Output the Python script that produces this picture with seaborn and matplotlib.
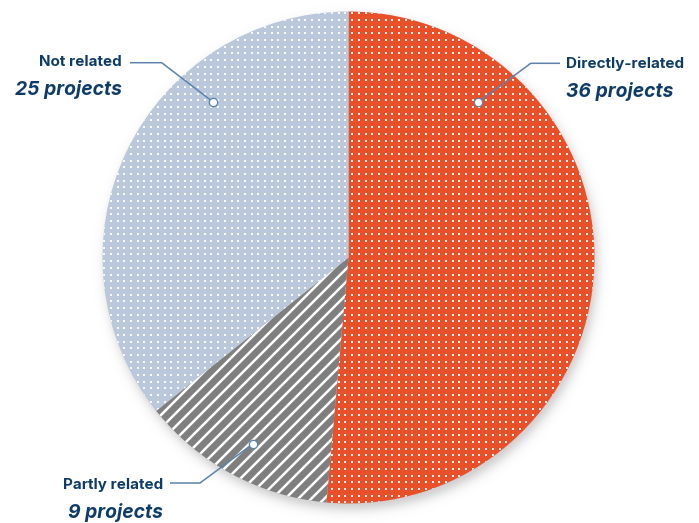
import numpy as np
import matplotlib
matplotlib.use("Agg")
import matplotlib.pyplot as plt
from matplotlib.collections import LineCollection
import seaborn as sns

# ---- data ----
categories = ["Directly-related", "Partly related", "Not related"]
counts = [36, 9, 25]
count_labels = ["36 projects", "9 projects", "25 projects"]

# ---- style ----
sns.set_theme(style="white")
plt.rcParams["font.family"] = ["Inter", "DejaVu Sans"]

W, H = 699, 523
ORANGE = "#E8502A"
BLUEGREY = "#BBC7DB"
GREY = "#7F7F7F"
NAVY = "#0E3C69"
LEADER = "#5E82AB"

fig = plt.figure(figsize=(W / 100, H / 100), dpi=100)
ax = fig.add_axes([0, 0, 1, 1])
ax.set_xlim(0, W)
ax.set_ylim(0, H)
ax.set_aspect("equal")
ax.axis("off")

cx, cy, R = 348.5, H - 257.5, 246.0

# soft drop shadow under the disc
yy, xx = np.mgrid[0:H, 0:W]
d = np.hypot(xx + 0.5 - (cx + 3), (H - yy - 0.5) - (cy - 6))
alpha = 0.32 / (1 + np.exp((d - R) / 3.2))
shadow = np.zeros((H, W, 4))
shadow[..., :3] = 0.35
shadow[..., 3] = alpha
ax.imshow(shadow, extent=(0, W, 0, H), origin="upper", zorder=0, interpolation="bilinear")

wedges, _ = ax.pie(
    counts,
    colors=[ORANGE, GREY, BLUEGREY],
    startangle=90,
    counterclock=False,
    center=(cx, cy),
    radius=R,
    frame=True,
    wedgeprops=dict(linewidth=0, zorder=1),
)
ax.set_xlim(0, W)
ax.set_ylim(0, H)
ax.axis("off")

# dotted texture on the orange and blue-grey slices
step = 6.7
gx, gy = np.meshgrid(np.arange(cx - R - step, cx + R + step, step) + 1.7,
                     np.arange(cy - R - step, cy + R + step, step) + 1.2)
for w in (wedges[0], wedges[2]):
    sc = ax.scatter(gx.ravel(), gy.ravel(), s=3.4, marker="s", c="white",
                    alpha=0.9, linewidths=0, zorder=2)
    sc.set_clip_path(w)

# diagonal stripes on the grey slice
sp = 13.0
segs = [[(x0, cy - R - 20), (x0 + 2 * R + 40, cy + R + 20)]
        for x0 in np.arange(cx - 3 * R, cx + 2 * R, sp)]
lc = LineCollection(segs, colors="white", linewidths=1.8, zorder=2)
ax.add_collection(lc)
lc.set_clip_path(wedges[1])

# callouts: (leader polyline in pixel coords, text anchor, alignment)
callouts = {
    "Directly-related": ([(560, 63.3), (530.7, 63.3), (478.3, 102.3)], (566, 68.3), (566, 96.7), "left"),
    "Partly related": ([(170, 483), (200, 483), (252.7, 444)], (163, 489), (163, 518), "right"),
    "Not related": ([(130, 62.7), (161.7, 62.7), (212.7, 101.7)], (122, 66), (122, 95), "right"),
}
for name, lab in zip(categories, count_labels):
    pts, t1, t2, ha = callouts[name]
    xs = [p[0] for p in pts]
    ys = [H - p[1] for p in pts]
    ax.plot(xs, ys, color=LEADER, lw=1.1, zorder=3, solid_capstyle="butt")
    ax.plot(xs[-1], ys[-1], "o", ms=6, mfc="white", mec=LEADER, mew=0.9, zorder=4)
    ax.text(t1[0], H - t1[1], name, ha=ha, va="baseline", fontsize=10.9,
            fontweight="bold", color=NAVY, zorder=5)
    ax.text(t2[0], H - t2[1], lab, ha=ha, va="baseline", fontsize=13.9,
            fontweight="bold", fontstyle="italic", color=NAVY, zorder=5)

fig.savefig("out.png", dpi=100, facecolor="white")
